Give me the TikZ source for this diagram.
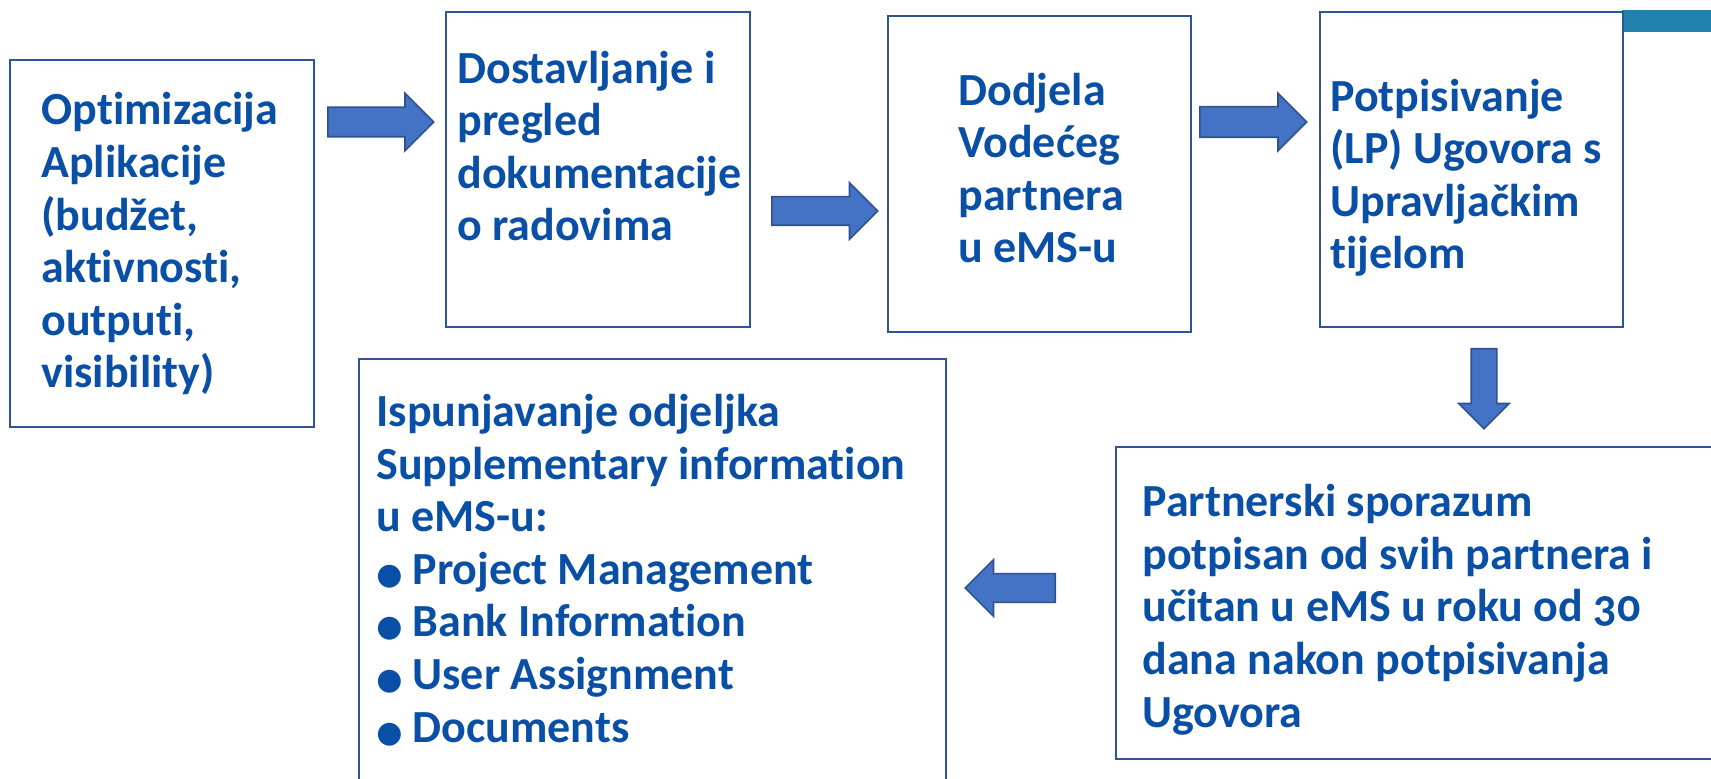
\documentclass[tikz,border=0pt]{standalone}
\usepackage{fontspec}
\setmainfont{Carlito}[Numbers=OldStyle, Ligatures=NoCommon]
\newfontfamily\dotfont{DejaVu Sans}
\usetikzlibrary{shapes.arrows}
\definecolor{txtblue}{RGB}{10,79,166}
\definecolor{boxblue}{RGB}{47,85,151}
\definecolor{arrfill}{RGB}{68,114,196}
\definecolor{arrline}{RGB}{47,82,143}
\definecolor{barteal}{RGB}{32,130,172}
\tikzset{
  box/.style={draw=boxblue, line width=1.2pt, rectangle, inner sep=0pt, anchor=north west},
  txt/.style={text=txtblue, font=\fontsize{23}{26.3}\selectfont\bfseries, align=left, inner sep=0pt, anchor=base west},
  blockarrow/.style={single arrow, fill=arrfill, draw=arrline, line width=0.8pt, inner sep=0pt, anchor=tail,
    text height=#1, text depth=0pt, text width=#1, single arrow head extend=7pt},
  blockarrow/.default=14pt
}
\newcommand{\bul}{{\dotfont\fontsize{15}{15}\selectfont ●}\hspace{5pt}}

\begin{document}
\begin{tikzpicture}[x=0.5pt, y=-0.5pt]
  \clip (0,0) rectangle (1711,779);
  \fill[barteal] (1622,10) rectangle (1711,32);

  % boxes
  \node[box, minimum width=152pt, minimum height=183.5pt] (b1) at (9,59) {};
  \node[box, minimum width=152pt, minimum height=157.5pt] (b2) at (445,11) {};
  \node[box, minimum width=151.5pt, minimum height=158pt] (b3) at (887,15) {};
  \node[box, minimum width=151.5pt, minimum height=157.5pt] (b4) at (1319,11) {};
  \node[box, minimum width=310pt, minimum height=156pt] (b5) at (1115,446) {};
  \node[box, minimum width=293.5pt, minimum height=220pt] (b6) at (358,358) {};

  % texts (anchored at the baseline of the last line)
  \node[txt] (t1) at (41,388) {Optimizacija\\Aplikacije\\(budžet,\\aktivnosti,\\outputi,\\visibility)};
  \node[txt] (t2) at (457,241) {Dostavljanje i\\pregled\\dokumentacije\\o radovima};
  \node[txt] (t3) at (958,263) {Dodjela\\Vodećeg\\partnera\\u eMS-u};
  \node[txt] (t4) at (1330,269) {Potpisivanje\\(LP) Ugovora s\\Upravljačkim\\tijelom};
  \node[txt] (t5) at (1142,727) {Partnerski sporazum\\potpisan od svih partnera i\\učitan u eMS u roku od 30\\dana nakon potpisivanja\\Ugovora};
  \node[txt] (t6) at (376,742) {Ispunjavanje odjeljka\\Supplementary information\\u eMS-u:\\\bul Project Management\\\bul Bank Information\\\bul User Assignment\\\bul Documents};

  % arrows
  \node[blockarrow, minimum height=53pt] (a12) at (327,122) {};
  \node[blockarrow=13.5pt, minimum height=53pt] (a23) at (771,211) {};
  \node[blockarrow=14.5pt, minimum height=53.5pt, single arrow head extend=6.75pt] (a34) at (1199,122) {};
  \node[blockarrow=12pt, minimum height=40pt, single arrow head extend=6.25pt,
    shape border rotate=270] (a45) at (1484,348) {};
  \node[blockarrow=13.5pt, minimum height=45pt, shape border rotate=180] (a56) at (1056,588) {};
\end{tikzpicture}
\end{document}
